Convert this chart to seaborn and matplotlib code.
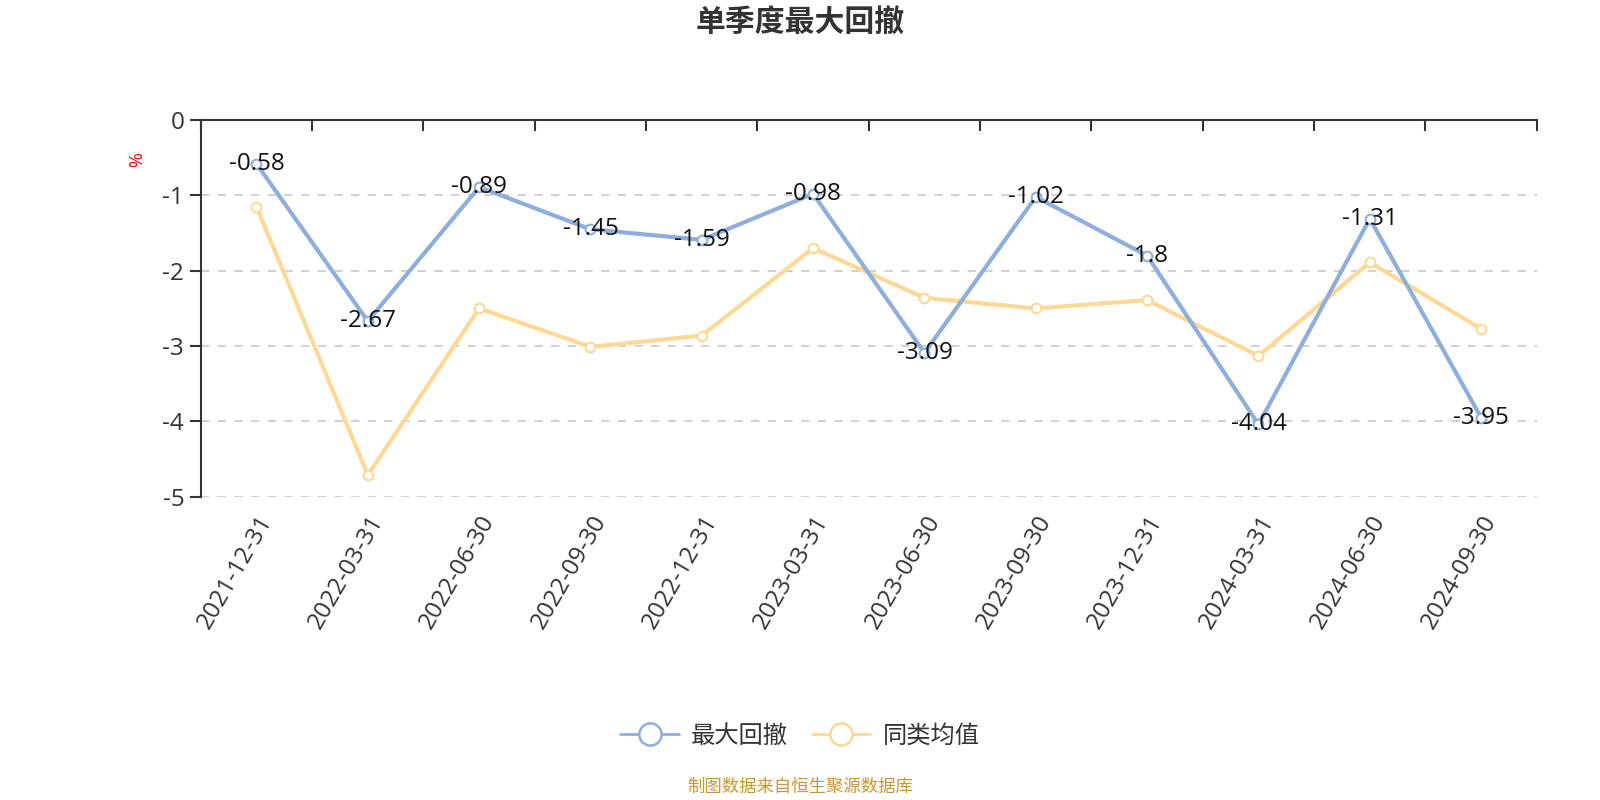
import numpy as np
import pandas as pd
import matplotlib
matplotlib.use("Agg")
import matplotlib.pyplot as plt
import seaborn as sns
from matplotlib.lines import Line2D

dates = ["2021-12-31", "2022-03-31", "2022-06-30", "2022-09-30", "2022-12-31", "2023-03-31",
         "2023-06-30", "2023-09-30", "2023-12-31", "2024-03-31", "2024-06-30", "2024-09-30"]
max_dd = [-0.58, -2.67, -0.89, -1.45, -1.59, -0.98, -3.09, -1.02, -1.8, -4.04, -1.31, -3.95]
peer_avg = [-1.15, -4.71, -2.50, -3.01, -2.86, -1.70, -2.36, -2.50, -2.39, -3.13, -1.89, -2.77]
series_names = ["最大回撤", "同类均值"]
colors = ["#8eafdb", "#fdd896"]
title = "单季度最大回撤"
source = "制图数据来自恒生聚源数据库"

sns.set_theme(style="white")
plt.rcParams['font.family'] = ['Noto Sans CJK SC', 'DejaVu Sans']
plt.rcParams['axes.unicode_minus'] = False
NUM_FONT = ['Open Sans', 'Noto Sans CJK SC', 'DejaVu Sans']

df = pd.DataFrame({
    "pos": list(range(len(dates))) * 2,
    "value": max_dd + peer_avg,
    "series": [series_names[0]] * len(dates) + [series_names[1]] * len(dates),
})

fig = plt.figure(figsize=(16, 8), dpi=100)
ax = fig.add_axes([0.1255, 0.379, 0.835, 0.471])

for name, col, z in [(series_names[1], colors[1], 2), (series_names[0], colors[0], 3)]:
    sub = df[df.series == name]
    sns.lineplot(data=sub, x="pos", y="value", ax=ax, color=col, linewidth=3,
                 marker="o", markersize=7, markerfacecolor="white",
                 markeredgecolor=col, markeredgewidth=1.5, zorder=z, legend=False)

for i, v in enumerate(max_dd):
    ax.text(i, v, f"{v:g}", ha="center", va="center", fontsize=17.5, color="#111111",
            zorder=5, family=NUM_FONT)

ax.set_xlim(-0.5, len(dates) - 0.5)
ax.set_ylim(-5, 0)
ax.set_yticks([0, -1, -2, -3, -4, -5])
ax.set_yticklabels(["0", "-1", "-2", "-3", "-4", "-5"], fontsize=17.5, color="#333333",
                   family=NUM_FONT)
ax.set_xticks(range(len(dates)))
ax.set_xticklabels(dates, rotation=60, ha="right", va="top", rotation_mode="anchor",
                   fontsize=17.5, color="#333333", family=NUM_FONT)
ax.set_xticks(np.arange(-0.5, len(dates), 1), minor=True)
ax.tick_params(axis="x", which="major", length=0, pad=10)
ax.tick_params(axis="x", which="minor", top=True, bottom=False, direction="in",
               length=8, width=1.5, color="#333333")
ax.tick_params(axis="y", which="major", left=True, direction="out", length=8,
               width=1.5, color="#333333", pad=4)
ax.set_xlabel("")
ax.set_ylabel("")

for y in [-1, -2, -3, -4, -5]:
    ax.axhline(y, color="#c8c8c8", linestyle=(0, (5, 5)), linewidth=1.2, zorder=1)

for s in ["top", "left"]:
    ax.spines[s].set_color("#333333")
    ax.spines[s].set_linewidth(1.5)
ax.spines["bottom"].set_visible(False)
ax.spines["right"].set_visible(False)

fig.text(0.0855, 0.80, "%", color="red", fontsize=13, rotation=90, ha="center", va="center",
         family=NUM_FONT)
fig.text(0.5, 0.972, title, ha="center", va="center", fontsize=21.5, fontweight="bold",
         color="#333333")
fig.text(0.5, 0.016, source, ha="center", va="center", fontsize=12.5, color="#c8962c")

handles = [Line2D([0], [0], color=c, linewidth=2, marker="o", markersize=16,
                  markerfacecolor="white", markeredgecolor=c, markeredgewidth=1.8)
           for c in colors]
fig.legend(handles, series_names, loc="center", bbox_to_anchor=(0.5, 0.08), ncol=2,
           frameon=False, fontsize=17.5, handlelength=2.4, columnspacing=1.0,
           handletextpad=0.5, labelcolor="#333333")

fig.savefig("out.png", dpi=100, facecolor="white")
